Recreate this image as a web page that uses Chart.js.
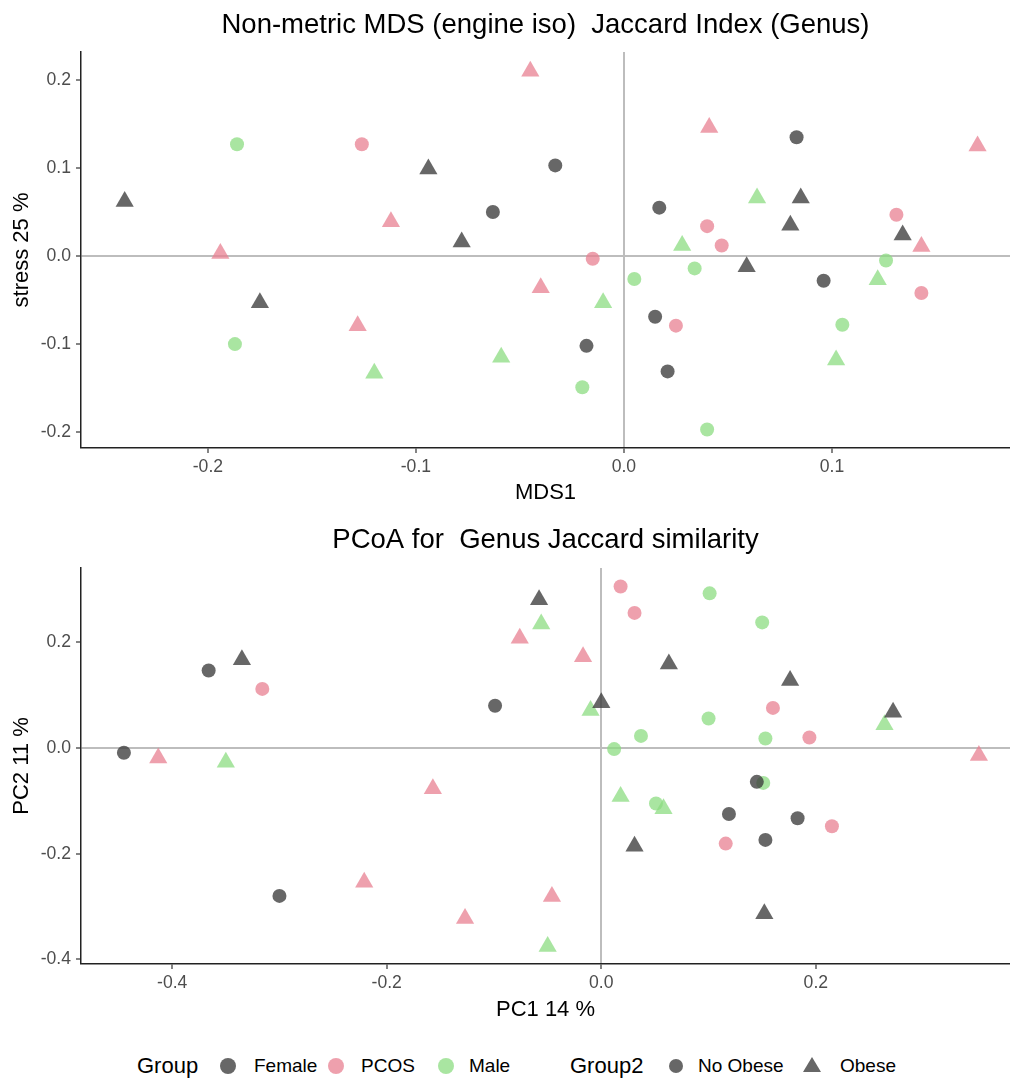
<!DOCTYPE html>
<html>
<head>
<meta charset="utf-8">
<script src="https://cdn.jsdelivr.net/npm/chart.js@4/dist/chart.umd.min.js"></script>
<style>
  html, body { margin: 0; padding: 0; background: #ffffff; }
  #page { position: relative; width: 1011px; height: 1082px; overflow: hidden; font-family: "Liberation Sans", Arial, sans-serif; }
  #top { position: absolute; left: 0; top: 0; }
  #bottom { position: absolute; left: 0; top: 515px; }
  .lg { position: absolute; top: 1066px; transform: translateY(-50%); white-space: nowrap; color: #000; }
  .lg-title { font-size: 22px; }
  .lg-text { font-size: 19px; }
  .dot { position: absolute; border-radius: 50%; }
</style>
</head>
<body>
<div id="page">
  <canvas id="top" width="1011" height="510"></canvas>
  <canvas id="bottom" width="1011" height="515"></canvas>

  <div class="lg lg-title" style="left:137px">Group</div>
  <div class="dot" style="left:220px;top:1058px;width:16px;height:16px;background:rgba(60,60,60,0.78)"></div>
  <div class="lg lg-text" style="left:254px">Female</div>
  <div class="dot" style="left:328px;top:1058px;width:16px;height:16px;background:rgba(232,128,145,0.75)"></div>
  <div class="lg lg-text" style="left:361px">PCOS</div>
  <div class="dot" style="left:438px;top:1058px;width:16px;height:16px;background:rgba(140,220,130,0.75)"></div>
  <div class="lg lg-text" style="left:469px">Male</div>

  <div class="lg lg-title" style="left:570px">Group2</div>
  <div class="dot" style="left:669px;top:1059px;width:14px;height:14px;background:rgba(60,60,60,0.78)"></div>
  <div class="lg lg-text" style="left:698px">No Obese</div>
  <svg style="position:absolute;left:802px;top:1056px" width="20" height="18"><polygon points="10,1 19,16 1,16" fill="rgba(60,60,60,0.78)"/></svg>
  <div class="lg lg-text" style="left:840px">Obese</div>
</div>

<script>
// ---- Non-metric MDS scores (MDS1, MDS2) ----
const nmdsFemaleNoObese = [[-0.033,0.103],[-0.063,0.050],[0.017,0.055],[0.083,0.135],[0.096,-0.028],[0.015,-0.069],[0.021,-0.131],[-0.018,-0.102]];
const nmdsFemaleObese   = [[-0.240,0.062],[-0.175,-0.053],[-0.094,0.099],[-0.078,0.016],[0.085,0.066],[0.080,0.035],[0.134,0.024],[0.059,-0.012]];
const nmdsPcosNoObese   = [[-0.126,0.127],[-0.015,-0.003],[0.040,0.034],[0.047,0.012],[0.131,0.047],[0.143,-0.042],[0.025,-0.079]];
const nmdsPcosObese     = [[-0.194,0.003],[-0.045,0.210],[-0.112,0.039],[0.041,0.146],[0.170,0.125],[0.143,0.011],[-0.040,-0.036],[-0.128,-0.079]];
const nmdsMaleNoObese   = [[-0.186,0.127],[-0.187,-0.100],[0.126,-0.005],[0.034,-0.014],[0.105,-0.078],[0.040,-0.197],[0.005,-0.026],[-0.020,-0.149]];
const nmdsMaleObese     = [[0.028,0.012],[0.064,0.066],[0.122,-0.027],[0.102,-0.118],[-0.010,-0.053],[-0.120,-0.133],[-0.059,-0.115]];

// ---- PCoA scores (PC1, PC2) ----
const pcoaFemaleNoObese = [[-0.445,-0.009],[-0.366,0.147],[-0.300,-0.280],[-0.099,0.080],[0.145,-0.064],[0.119,-0.125],[0.183,-0.133],[0.153,-0.174]];
const pcoaFemaleObese   = [[-0.335,0.167],[-0.058,0.281],[0.000,0.086],[0.063,0.159],[0.031,-0.186],[0.176,0.128],[0.272,0.068],[0.152,-0.314]];
const pcoaPcosNoObese   = [[-0.316,0.112],[0.018,0.306],[0.031,0.256],[0.160,0.076],[0.194,0.020],[0.215,-0.148],[0.116,-0.181]];
const pcoaPcosObese     = [[-0.413,-0.019],[-0.076,0.208],[-0.017,0.173],[-0.157,-0.077],[-0.221,-0.254],[-0.127,-0.323],[-0.046,-0.281],[0.352,-0.014]];
const pcoaMaleNoObese   = [[0.012,-0.002],[0.037,0.023],[0.051,-0.105],[0.101,0.293],[0.150,0.238],[0.100,0.056],[0.153,0.018],[0.151,-0.066]];
const pcoaMaleObese     = [[-0.350,-0.027],[-0.056,0.235],[-0.010,0.071],[-0.050,-0.376],[0.018,-0.092],[0.058,-0.115],[0.264,0.044]];

const groups = ['Female', 'PCOS', 'Male'];
const groupColors = ['rgba(60,60,60,0.78)', 'rgba(232,128,145,0.75)', 'rgba(140,220,130,0.75)'];

const FONT = '"Liberation Sans", Arial, sans-serif';

function toXY(pairs) { return pairs.map(p => ({x: p[0], y: p[1]})); }

function makeSets(lists) {
  // lists: [[noObese, obese] per group]
  const sets = [];
  lists.forEach((pair, gi) => {
    sets.push({ label: groups[gi] + ' No Obese', data: toXY(pair[0]), pointStyle: 'circle', pointRadius: 7,
                backgroundColor: groupColors[gi], borderWidth: 0 });
    sets.push({ label: groups[gi] + ' Obese', data: toXY(pair[1]), pointStyle: 'triangle', pointRadius: 10.5,
                backgroundColor: groupColors[gi], borderWidth: 0 });
  });
  return sets;
}

function axis(opts) {
  return {
    type: 'linear',
    min: opts.min, max: opts.max,
    afterFit: opts.fit,
    // keep only the ticks that fall inside the panel
    afterBuildTicks: s => { s.ticks = s.ticks.filter(t => t.value >= s.min - 1e-9 && t.value <= s.max + 1e-9); },
    border: { display: true, color: '#222', width: 1.5 },
    grid: {
      drawOnChartArea: true, drawTicks: true, tickLength: 5, tickColor: '#333', tickWidth: 1.2,
      color: c => (c.tick && Math.abs(c.tick.value) < 1e-9) ? '#bdbdbd' : 'rgba(0,0,0,0)',
      lineWidth: c => (c.tick && Math.abs(c.tick.value) < 1e-9) ? 2 : 0
    },
    ticks: {
      stepSize: opts.step, includeBounds: false, color: '#4d4d4d', padding: opts.tickPad,
      font: { family: FONT, size: 17.6 },
      callback: v => Number(v).toFixed(1)
    },
    title: { display: true, text: opts.title, color: '#000', font: { family: FONT, size: 22 }, padding: opts.titlePad }
  };
}

function makeChart(id, title, sets, xo, yo, titlePad) {
  return new Chart(document.getElementById(id), {
    type: 'scatter',
    data: { datasets: sets },
    options: {
      responsive: false, animation: false, events: [],
      layout: { autoPadding: false, padding: { left: 0, right: 1, top: 0, bottom: 0 } },
      plugins: {
        legend: { display: false }, tooltip: { enabled: false },
        title: { display: true, fullSize: false, text: title, color: '#000', font: { family: FONT, size: 27.5, weight: 'normal' }, padding: titlePad }
      },
      scales: { x: axis(xo), y: axis(yo) }
    }
  });
}

makeChart('top', 'Non-metric MDS (engine iso)  Jaccard Index (Genus)',
  makeSets([[nmdsFemaleNoObese, nmdsFemaleObese], [nmdsPcosNoObese, nmdsPcosObese], [nmdsMaleNoObese, nmdsMaleObese]]),
  { min: -0.261, max: 0.1856, step: 0.1, title: 'MDS1', tickPad: 4, titlePad: { top: 0, bottom: 4 }, fit: s => { s.height = 62; } },
  { min: -0.218, max: 0.2318, step: 0.1, title: 'stress 25 %', tickPad: 5, titlePad: { top: 9, bottom: 0 }, fit: s => { s.width = 81; } },
  { top: 9, bottom: 10 });

makeChart('bottom', 'PCoA for  Genus Jaccard similarity',
  makeSets([[pcoaFemaleNoObese, pcoaFemaleObese], [pcoaPcosNoObese, pcoaPcosObese], [pcoaMaleNoObese, pcoaMaleObese]]),
  { min: -0.485, max: 0.381, step: 0.2, title: 'PC1 14 %', tickPad: 4, titlePad: { top: 0, bottom: 7 }, fit: s => { s.height = 66; } },
  { min: -0.409, max: 0.341, step: 0.2, title: 'PC2 11 %', tickPad: 5, titlePad: { top: 9, bottom: 0 }, fit: s => { s.width = 81; } },
  { top: 9, bottom: 11 });
</script>
</body>
</html>
